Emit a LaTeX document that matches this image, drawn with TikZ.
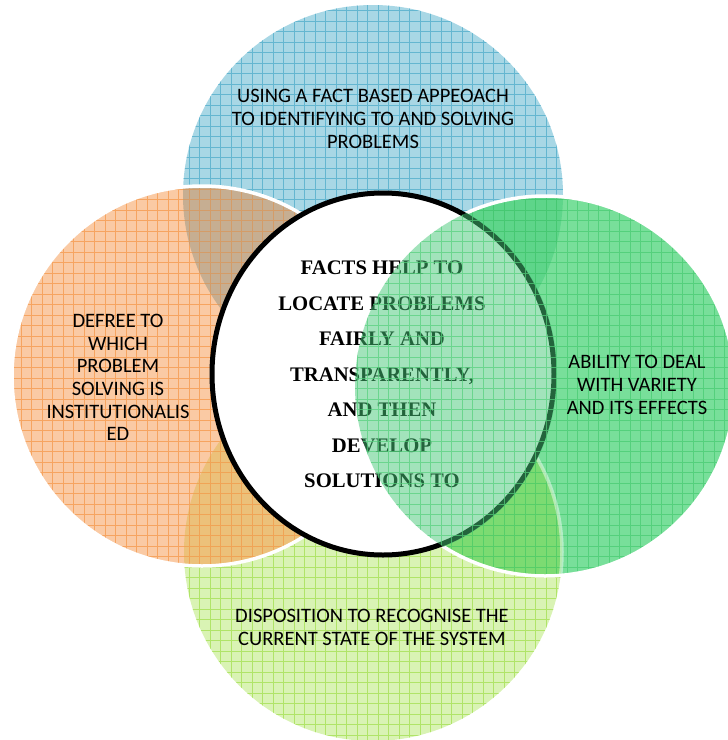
\documentclass[tikz,border=0pt]{standalone}
\usepackage{fontspec}
\newfontfamily\sansface{Carlito}
\newfontfamily\serifface{Liberation Serif}

% fills and grid-line colours of the four outer discs
\definecolor{bluefill}{RGB}{168,215,229}
\definecolor{blueline}{RGB}{100,182,208}
\definecolor{orfill}{RGB}{250,202,164}
\definecolor{orline}{RGB}{246,164,96}
\definecolor{grfill}{RGB}{120,223,154}
\definecolor{grline}{RGB}{84,208,124}
\definecolor{lgfill}{RGB}{217,243,180}
\definecolor{lgline}{RGB}{176,228,104}
% colours where two discs overlap
\definecolor{bofill}{RGB}{198,174,146}
\definecolor{boline}{RGB}{212,156,104}
\definecolor{olfill}{RGB}{236,193,122}
\definecolor{olline}{RGB}{240,164,86}
\definecolor{bgfill}{RGB}{94,213,138}
\definecolor{bgline}{RGB}{70,200,114}
\definecolor{lgrfill}{RGB}{124,219,114}
\definecolor{lgrline}{RGB}{86,206,104}
\definecolor{veil}{RGB}{70,200,120}

% paint the current clip region with a flat colour and a fine grid
\newcommand\paintarea[2]{%
  \fill[#1] (0,0) rectangle (728,740);
  \draw[#2, line width=0.9pt, step=10.5pt] (0,0) grid (728,740);}

\begin{document}
\begin{tikzpicture}[x=1pt,y=-1pt,
  outertext/.style={font=\sansface\fontsize{20.5}{22.6}\selectfont, align=center, inner sep=0pt},
  coretext/.style={font=\serifface\bfseries\fontsize{20.7}{35.5}\selectfont, align=center, inner sep=0pt},
  rim/.style={white, line width=3.5pt}]
\useasboundingbox (0,0) rectangle (728,740);
\clip (0,0) rectangle (728,740);

\coordinate (cB) at (373,195);
\coordinate (cO) at (202,376);
\coordinate (cG) at (545,386);
\coordinate (cL) at (373,552);
\coordinate (cW) at (383,374);

% outer discs
\begin{scope}\clip (cB) circle[radius=190pt]; \paintarea{bluefill}{blueline}\end{scope}
\begin{scope}\clip (cL) circle[radius=189pt]; \paintarea{lgfill}{lgline}\end{scope}
\begin{scope}\clip (cO) circle[radius=190pt]; \paintarea{orfill}{orline}\end{scope}
\begin{scope}\clip (cG) circle[radius=190pt]; \paintarea{grfill}{grline}\end{scope}

% overlaps
\begin{scope}\clip (cB) circle[radius=190pt]; \clip (cO) circle[radius=190pt]; \paintarea{bofill}{boline}\end{scope}
\begin{scope}\clip (cO) circle[radius=190pt]; \clip (cL) circle[radius=189pt]; \paintarea{olfill}{olline}\end{scope}
\begin{scope}\clip (cB) circle[radius=190pt]; \clip (cG) circle[radius=190pt]; \paintarea{bgfill}{bgline}\end{scope}
\begin{scope}\clip (cL) circle[radius=189pt]; \clip (cG) circle[radius=190pt]; \paintarea{lgrfill}{lgrline}\end{scope}

% white rims
\draw[rim] (cO) circle[radius=190pt];
\begin{scope}\clip (cG) circle[radius=190pt]; \draw[rim, opacity=0.45] (cL) circle[radius=189pt];\end{scope}
\draw[rim] (cG) circle[radius=190pt];

% centre disc
\draw[black, fill=white, line width=5pt] (cW) ellipse[x radius=171pt, y radius=181pt];
\node[coretext] (core) at (382,374.5) {FACTS HELP TO\\LOCATE PROBLEMS\\FAIRLY AND\\TRANSPARENTLY,\\AND THEN\\DEVELOP\\SOLUTIONS TO};

% green disc seen over the centre disc
\begin{scope}
  \clip (cG) circle[radius=190pt];
  \fill[veil, opacity=0.5] (cW) ellipse[x radius=174pt, y radius=184pt];
  \clip (cW) ellipse[x radius=174pt, y radius=184pt];
  \draw[grline, opacity=0.7, line width=0.9pt, step=10.5pt] (0,0) grid (728,740);
\end{scope}

% labels of the outer discs
\node[outertext] (top) at (373,119) {USING A FACT BASED APPEOACH\\TO IDENTIFYING TO AND SOLVING\\PROBLEMS};
\node[outertext] (left) at (118,377.5) {DEFREE TO\\WHICH\\PROBLEM\\SOLVING IS\\INSTITUTIONALIS\\ED};
\node[outertext] (right) at (637,385) {ABILITY TO DEAL\\WITH VARIETY\\AND ITS EFFECTS};
\node[outertext] (bottom) at (372,627.5) {DISPOSITION TO RECOGNISE THE\\CURRENT STATE OF THE SYSTEM};
\end{tikzpicture}
\end{document}
